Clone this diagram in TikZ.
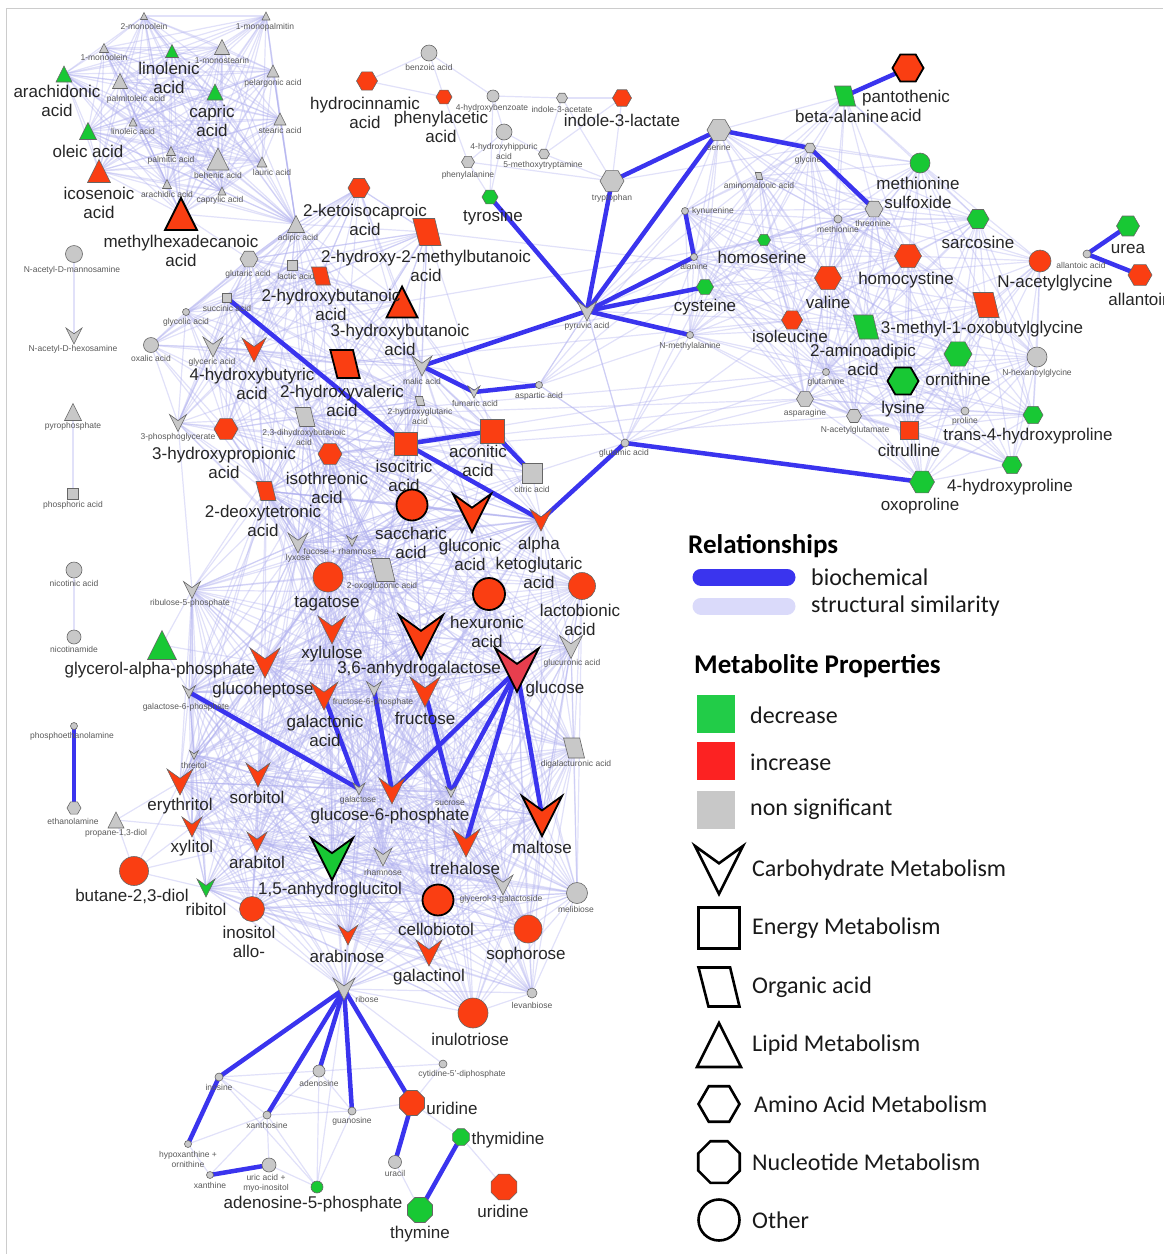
\documentclass[tikz,border=0pt]{standalone}
\usepackage{fontspec}
\setmainfont{Liberation Sans}
\newfontfamily\legfont{Carlito}
\usepackage{tikz}
\usetikzlibrary{shapes.geometric,backgrounds}

\definecolor{upred}{RGB}{250,62,18}
\definecolor{dngreen}{RGB}{24,200,52}
\definecolor{nsgray}{RGB}{200,200,200}
\definecolor{glcred}{RGB}{232,62,78}
\definecolor{simblue}{RGB}{175,175,238}
\definecolor{bioblue}{RGB}{58,52,238}
\definecolor{legred}{RGB}{252,34,34}
\definecolor{leggreen}{RGB}{34,204,72}
\definecolor{leglav}{RGB}{218,218,250}

% node shapes for the metabolite classes
\pgfdeclareshape{carbshape}{%
  \inheritsavedanchors[from=circle]%
  \inheritanchor[from=circle]{center}%
  \inheritanchorborder[from=circle]%
  \backgroundpath{%
    \pgfpathmoveto{\pgfpointadd{\centerpoint}{\pgfpoint{-\radius}{\radius}}}%
    \pgfpathlineto{\pgfpointadd{\centerpoint}{\pgfpoint{0pt}{0.28*\radius}}}%
    \pgfpathlineto{\pgfpointadd{\centerpoint}{\pgfpoint{\radius}{\radius}}}%
    \pgfpathlineto{\pgfpointadd{\centerpoint}{\pgfpoint{0pt}{-\radius}}}%
    \pgfpathclose}%
}
\pgfdeclareshape{lipidshape}{%
  \inheritsavedanchors[from=circle]%
  \inheritanchor[from=circle]{center}%
  \inheritanchorborder[from=circle]%
  \backgroundpath{%
    \pgfpathmoveto{\pgfpointadd{\centerpoint}{\pgfpoint{0pt}{\radius}}}%
    \pgfpathlineto{\pgfpointadd{\centerpoint}{\pgfpoint{\radius}{-\radius}}}%
    \pgfpathlineto{\pgfpointadd{\centerpoint}{\pgfpoint{-\radius}{-\radius}}}%
    \pgfpathclose}%
}
\pgfdeclareshape{acidshape}{%
  \inheritsavedanchors[from=circle]%
  \inheritanchor[from=circle]{center}%
  \inheritanchorborder[from=circle]%
  \backgroundpath{%
    \pgfpathmoveto{\pgfpointadd{\centerpoint}{\pgfpoint{-1.05*\radius}{\radius}}}%
    \pgfpathlineto{\pgfpointadd{\centerpoint}{\pgfpoint{0.57*\radius}{\radius}}}%
    \pgfpathlineto{\pgfpointadd{\centerpoint}{\pgfpoint{1.05*\radius}{-\radius}}}%
    \pgfpathlineto{\pgfpointadd{\centerpoint}{\pgfpoint{-0.54*\radius}{-\radius}}}%
    \pgfpathclose}%
}

\tikzstyle{met}    = [draw=black!60, line width=0.6pt, inner sep=0pt, outer sep=0pt]
\tikzstyle{up}     = [met, fill=upred]
\tikzstyle{dn}     = [met, fill=dngreen]
\tikzstyle{ns}     = [met, fill=nsgray]
\tikzstyle{hit}    = [draw=black, line width=1.8pt]
\tikzstyle{lab}    = [font=\fontsize{17}{19.5}\selectfont, text=black!85, align=center, inner sep=0pt]
\tikzstyle{sm}     = [font=\fontsize{8.5}{10}\selectfont, text=black!65, align=center, inner sep=0pt]
\tikzstyle{sim}    = [draw=simblue, line width=1.2pt, opacity=0.38]
\tikzstyle{bio}    = [draw=bioblue, line width=4.5pt]
\tikzstyle{leg}    = [font=\legfont\fontsize{24}{28}\selectfont, text=black!90, anchor=west, inner sep=0pt]
\tikzstyle{leghd}  = [font=\legfont\bfseries\fontsize{27}{30}\selectfont, anchor=west, inner sep=0pt]
\tikzstyle{legkey} = [draw=black, line width=2.6pt, fill=white, inner sep=0pt, outer sep=0pt]
\tikzset{
  carb/.style={shape=carbshape, minimum size=#1},
  lipid/.style={shape=lipidshape, minimum size=#1},
  oacid/.style={shape=acidshape, minimum size=#1},
  ener/.style={shape=rectangle, minimum size=#1},
  amino/.style={regular polygon, regular polygon sides=6, minimum size=#1},
  nucl/.style={regular polygon, regular polygon sides=8, minimum size=#1},
  oth/.style={shape=circle, minimum size=#1}
}

\newcommand\lipidgrp{mono2,mpalm,mono1,linoln,mstear,arachd,pltol,pelarg,capric,linol,stear,oleic,palm,behen,laur,icos,arach,capryl,mhd,adip}
\newcommand\acidgrp{lac,glut,succ,hbuta,hmb,kic,glyco,oxal,glyc,hbyr,hval,hbut3,mal,hglu,pga,hprop,dhb,dtet,ithr,icit,acon,cit,sacc,glcn,akg,lyx,fucrha,oxg,tag,adip}
\newcommand\sugargrp{sacc,glcn,akg,lyx,fucrha,oxg,tag,hexu,lacto,r5p,xylu,ahg,glcA,glc,ghep,gal6p,galn,f6p,fru,digal,throl,ery,sorb,gal,g6p,suc,malt,treh,xylt,arabt,ahgl,rha,ribt,g3g,arab,galol,melib,soph,rib,levan,inul,cello,inoal,dtet,ithr,dhb}
\newcommand\aminogrp{ser,gly,amal,msox,kyn,thr,met,sarc,hser,ala,cys,hcys,val,nacg,ile,nmala,mobg,aad,orn,lys,nhex,gln,asn,nacglu,citr,pro,thp,hyp4,oxop,bala,pyr,asp,glu}

% similarity links inside one group, up to a given length
\newcommand\simgroup[2]{%
  \foreach \a [count=\i] in #1 {
    \foreach \b [count=\j] in #1 {
      \ifnum\j>\i
        \pgfpointdiff{\pgfpointanchor{\a}{center}}{\pgfpointanchor{\b}{center}}
        \pgfgetlastxy\ddx\ddy
        \pgfmathtruncatemacro\near{veclen(\ddx,\ddy)<#2}
        \ifnum\near=1 \draw[sim] (\a.center) -- (\b.center); \fi
      \fi
    }
  }%
}

\begin{document}
\begin{tikzpicture}[x=1pt, y=-1pt]
    \useasboundingbox (0,0) rectangle (1163,1254);
    \draw[black!20, line width=1pt] (6,1254) -- (6,8) -- (1163,8);

    % lipids
    \node[ns, lipid=7] (mono2) at (144,16) {};       \node[sm] (mono2-t) at (144,26) {2-monoolein};
    \node[ns, lipid=8] (mpalm) at (266,16) {};       \node[sm] (mpalm-t) at (265,27) {1-monopalmitin};
    \node[ns, lipid=9] (mono1) at (104,48) {};       \node[sm] (mono1-t) at (104,57) {1-monoolein};
    \node[dn, lipid=13] (linoln) at (172,51) {};     \node[lab] (linoln-t) at (169,78) {linolenic\\acid};
    \node[ns, lipid=15] (mstear) at (222,47) {};     \node[sm] (mstear-t) at (222,60) {1-monostearin};
    \node[dn, lipid=16] (arachd) at (64,74) {};      \node[lab] (arachd-t) at (57,101) {arachidonic\\acid};
    \node[ns, lipid=15] (pltol) at (120,81) {};      \node[sm] (pltol-t) at (136,99) {palmitoleic acid};
    \node[ns, lipid=12] (pelarg) at (273,71) {};     \node[sm] (pelarg-t) at (273,83) {pelargonic acid};
    \node[dn, lipid=16] (capric) at (215,92) {};     \node[lab] (capric-t) at (212,121) {capric\\acid};
    \node[ns, lipid=8] (linol) at (133,122) {};      \node[sm] (linol-t) at (133,131) {linoleic acid};
    \node[ns, lipid=12] (stear) at (280,119) {};     \node[sm] (stear-t) at (280,130) {stearic acid};
    \node[dn, lipid=17] (oleic) at (88,131) {};      \node[lab] (oleic-t) at (88,151) {oleic acid};
    \node[ns, lipid=9] (palm) at (171,151) {};       \node[sm] (palm-t) at (171,160) {palmitic acid};
    \node[ns, lipid=22] (behen) at (218,159) {};     \node[sm] (behen-t) at (218,175) {behenic acid};
    \node[ns, lipid=10] (laur) at (262,162) {};      \node[sm] (laur-t) at (272,172) {lauric acid};
    \node[up, lipid=23] (icos) at (99,171) {};       \node[lab] (icos-t) at (99,203) {icosenoic\\acid};
    \node[ns, lipid=9] (arach) at (167,184) {};      \node[sm] (arach-t) at (167,194) {arachidic acid};
    \node[ns, lipid=8] (capryl) at (222,191) {};     \node[sm] (capryl-t) at (220,200) {caprylic acid};
    \node[up, hit, lipid=32] (mhd) at (181,214) {};  \node[lab] (mhd-t) at (181,251) {methylhexadecanoic\\acid};
    \node[ns, lipid=17] (adip) at (296,224) {};      \node[sm] (adip-t) at (298,238) {adipic acid};

    % aromatic compounds
    \node[ns, oth=16] (benz) at (429,53) {};         \node[sm] (benz-t) at (429,67) {benzoic acid};
    \node[up, amino=21] (hcin) at (367,81) {};       \node[lab] (hcin-t) at (365,113) {hydrocinnamic\\acid};
    \node[up, amino=16] (phac) at (444,97) {};       \node[lab] (phac-t) at (441,127) {phenylacetic\\acid};
    \node[ns, oth=12] (hbz) at (493,96) {};          \node[sm] (hbz-t) at (492,108) {4-hydroxybenzoate};
    \node[ns, amino=11] (iaa) at (562,98) {};        \node[sm] (iaa-t) at (562,109) {indole-3-acetate};
    \node[up, amino=19] (ilac) at (622,98) {};       \node[lab] (ilac-t) at (622,120) {indole-3-lactate};
    \node[ns, oth=16] (hhip) at (504,132) {};        \node[sm] (hhip-t) at (504,151) {4-hydroxyhippuric\\acid};
    \node[ns, amino=11] (mtry) at (544,154) {};      \node[sm] (mtry-t) at (543,165) {5-methoxytryptamine};
    \node[ns, amino=13] (phe) at (468,162) {};       \node[sm] (phe-t) at (468,175) {phenylalanine};
    \node[ns, amino=24] (trp) at (612,181) {};       \node[sm] (trp-t) at (612,198) {tryptophan};
    \node[up, amino=22] (kic) at (359,188) {};       \node[lab] (kic-t) at (365,220) {2-ketoisocaproic\\acid};
    \node[dn, amino=16] (tyr) at (490,197) {};       \node[lab] (tyr-t) at (493,217) {tyrosine};
    \node[up, oacid=27] (hmb) at (427,232) {};       \node[lab] (hmb-t) at (426,266) {2-hydroxy-2-methylbutanoic\\acid};

    % amino acids
    \node[up, hit, amino=31] (pan) at (908,68) {};   \node[lab] (pan-t) at (906,106) {pantothenic\\acid};
    \node[dn, oacid=20] (bala) at (845,96) {};       \node[lab] (bala-t) at (842,116) {beta-alanine};
    \node[ns, amino=24] (ser) at (719,130) {};       \node[sm] (ser-t) at (719,147) {serine};
    \node[ns, amino=11] (gly) at (810,148) {};       \node[sm] (gly-t) at (808,160) {glycine};
    \node[ns, oacid=7] (amal) at (759,176) {};       \node[sm] (amal-t) at (759,185) {aminomalonic acid};
    \node[dn, oth=20] (msox) at (920,163) {};        \node[lab] (msox-t) at (918,193) {methionine\\sulfoxide};
    \node[ns, oth=7] (kyn) at (685,211) {};          \node[sm, anchor=west] (kyn-t) at (692,211) {kynurenine};
    \node[ns, amino=18] (thr) at (874,209) {};       \node[sm] (thr-t) at (873,223) {threonine};
    \node[ns, oth=8] (met) at (838,219) {};          \node[sm] (met-t) at (838,229) {methionine};
    \node[dn, amino=22] (sarc) at (978,219) {};      \node[lab] (sarc-t) at (978,242) {sarcosine};
    \node[dn, amino=23] (urea) at (1128,226) {};     \node[lab] (urea-t) at (1128,249) {urea};
    \node[dn, amino=13] (hser) at (764,240) {};      \node[lab] (hser-t) at (762,257) {homoserine};
    \node[ns, oth=7] (ala) at (694,257) {};          \node[sm] (ala-t) at (694,266) {alanine};
    \node[dn, amino=17] (cys) at (705,287) {};       \node[lab] (cys-t) at (705,307) {cysteine};
    \node[up, amino=27] (hcys) at (908,256) {};      \node[lab] (hcys-t) at (906,280) {homocystine};
    \node[up, amino=27] (val) at (828,278) {};       \node[lab] (val-t) at (828,302) {valine};
    \node[up, oth=22] (nacg) at (1040,261) {};       \node[lab] (nacg-t) at (1055,283) {N-acetylglycine};
    \node[ns, oth=8] (allac) at (1087,254) {};       \node[sm] (allac-t) at (1081,265) {allantoic acid};
    \node[up, amino=24] (allan) at (1140,275) {};    \node[lab] (allan-t) at (1140,299) {allantoin};
    \node[up, amino=21] (ile) at (792,320) {};       \node[lab] (ile-t) at (790,336) {isoleucine};
    \node[ns, oth=7] (nmala) at (690,335) {};        \node[sm] (nmala-t) at (690,346) {N-methylalanine};
    \node[up, oacid=25] (mobg) at (986,305) {};      \node[lab] (mobg-t) at (982,329) {3-methyl-1-oxobutylglycine};
    \node[dn, oacid=24] (aad) at (866,327) {};       \node[lab] (aad-t) at (863,360) {2-aminoadipic\\acid};
    \node[dn, amino=28] (orn) at (958,354) {};       \node[lab] (orn-t) at (958,379) {ornithine};
    \node[dn, hit, amino=31] (lys) at (903,381) {};  \node[lab] (lys-t) at (903,409) {lysine};
    \node[ns, oth=20] (nhex) at (1037,357) {};       \node[sm] (nhex-t) at (1037,373) {N-hexanoylglycine};
    \node[ns, oth=7] (gln) at (826,372) {};          \node[sm] (gln-t) at (826,382) {glutamine};
    \node[ns, amino=17] (asn) at (805,399) {};       \node[sm] (asn-t) at (805,413) {asparagine};
    \node[ns, amino=15] (nacglu) at (854,416) {};    \node[sm] (nacglu-t) at (855,430) {N-acetylglutamate};
    \node[up, ener=18] (citr) at (909,430) {};       \node[lab] (citr-t) at (909,450) {citrulline};
    \node[ns, oth=8] (pro) at (965,411) {};          \node[sm] (pro-t) at (965,421) {proline};
    \node[dn, amino=20] (thp) at (1033,415) {};      \node[lab] (thp-t) at (1028,436) {trans-4-hydroxyproline};
    \node[dn, amino=20] (hyp4) at (1012,465) {};     \node[lab] (hyp4-t) at (1010,487) {4-hydroxyproline};
    \node[dn, amino=25] (oxop) at (922,482) {};      \node[lab] (oxop-t) at (920,506) {oxoproline};

    % organic acids and energy metabolism
    \node[ns, oth=8] (glu) at (625,443) {};          \node[sm] (glu-t) at (624,453) {glutamic acid};
    \node[ns, oth=7] (asp) at (539,385) {};          \node[sm] (asp-t) at (539,396) {aspartic acid};
    \node[ns, carb=20] (pyr) at (587,311) {};        \node[sm] (pyr-t) at (587,326) {pyruvic acid};
    \node[ns, carb=20] (mal) at (422,366) {};        \node[sm] (mal-t) at (422,381) {malic acid};
    \node[ns, carb=12] (fum) at (474,392) {};        \node[sm] (fum-t) at (475,403) {fumaric acid};
    \node[ns, oacid=9] (hglu) at (420,401) {};       \node[sm] (hglu-t) at (420,416) {2-hydroxyglutaric\\acid};
    \node[up, hit, lipid=31] (hbut3) at (402,302) {};\node[lab] (hbut3-t) at (400,340) {3-hydroxybutanoic\\acid};
    \node[up, hit, oacid=28] (hval) at (345,364) {}; \node[lab] (hval-t) at (342,401) {2-hydroxyvaleric\\acid};
    \node[up, ener=23] (icit) at (406,444) {};       \node[lab] (icit-t) at (404,476) {isocitric\\acid};
    \node[up, ener=24] (acon) at (492,431) {};       \node[lab] (acon-t) at (478,461) {aconitic\\acid};
    \node[ns, ener=20] (cit) at (532,473) {};        \node[sm] (cit-t) at (532,489) {citric acid};
    \node[up, hit, oth=31] (sacc) at (412,505) {};   \node[lab] (sacc-t) at (411,543) {saccharic\\acid};
    \node[up, hit, carb=38] (glcn) at (472,513) {};  \node[lab] (glcn-t) at (470,555) {gluconic\\acid};
    \node[up, carb=22] (akg) at (541,520) {};        \node[lab] (akg-t) at (539,563) {alpha\\ketoglutaric\\acid};
    \node[ns, oth=17] (nacman) at (74,254) {};       \node[sm] (nacman-t) at (72,270) {N-acetyl-D-mannosamine};
    \node[ns, carb=16] (nachex) at (74,336) {};      \node[sm] (nachex-t) at (73,349) {N-acetyl-D-hexosamine};
    \node[ns, amino=18] (glut) at (249,259) {};      \node[sm] (glut-t) at (248,274) {glutaric acid};
    \node[ns, ener=10] (lac) at (292,265) {};        \node[sm] (lac-t) at (296,276) {lactic acid};
    \node[up, oacid=18] (hbuta) at (321,276) {};     \node[lab] (hbuta-t) at (331,305) {2-hydroxybutanoic\\acid};
    \node[ns, ener=9] (succ) at (227,298) {};        \node[sm] (succ-t) at (227,308) {succinic acid};
    \node[ns, oth=7] (glyco) at (186,312) {};        \node[sm] (glyco-t) at (186,322) {glycolic acid};
    \node[ns, oth=15] (oxal) at (151,345) {};        \node[sm] (oxal-t) at (151,358) {oxalic acid};
    \node[ns, carb=20] (glyc) at (213,347) {};       \node[sm] (glyc-t) at (212,362) {glyceric acid};
    \node[up, carb=24] (hbyr) at (254,350) {};       \node[lab] (hbyr-t) at (252,384) {4-hydroxybutyric\\acid};
    \node[ns, lipid=17] (ppi) at (73,412) {};        \node[sm] (ppi-t) at (73,426) {pyrophosphate};
    \node[ns, ener=11] (pi) at (73,494) {};          \node[sm] (pi-t) at (73,505) {phosphoric acid};
    \node[ns, carb=17] (pga) at (178,423) {};        \node[sm] (pga-t) at (178,437) {3-phosphoglycerate};
    \node[up, amino=24] (hprop) at (226,429) {};     \node[lab] (hprop-t) at (224,463) {3-hydroxypropionic\\acid};
    \node[ns, oacid=19] (dhb) at (305,417) {};       \node[sm] (dhb-t) at (304,437) {2,3-dihydroxybutanoic\\acid};
    \node[up, oacid=19] (dtet) at (266,491) {};      \node[lab] (dtet-t) at (263,521) {2-deoxytetronic\\acid};
    \node[up, amino=24] (ithr) at (330,454) {};      \node[lab] (ithr-t) at (327,488) {isothreonic\\acid};

    % carbohydrates
    \node[ns, carb=11] (fucrha) at (352,541) {};     \node[sm] (fucrha-t) at (340,551) {fucose + rhamnose};
    \node[ns, oacid=23] (oxg) at (383,570) {};       \node[sm] (oxg-t) at (382,586) {2-oxogluconic acid};
    \node[ns, carb=20] (lyx) at (298,543) {};        \node[sm] (lyx-t) at (298,558) {lyxose};
    \node[up, oth=30] (tag) at (328,577) {};         \node[lab] (tag-t) at (327,604) {tagatose};
    \node[up, hit, oth=32] (hexu) at (489,594) {};   \node[lab] (hexu-t) at (487,632) {hexuronic\\acid};
    \node[up, oth=27] (lacto) at (582,586) {};       \node[lab] (lacto-t) at (580,620) {lactobionic\\acid};
    \node[ns, carb=17] (r5p) at (192,590) {};        \node[sm] (r5p-t) at (190,603) {ribulose-5-phosphate};
    \node[up, carb=28] (xylu) at (332,630) {};       \node[lab] (xylu-t) at (332,654) {xylulose};
    \node[up, hit, carb=44] (ahg) at (421,637) {};   \node[lab] (ahg-t) at (419,669) {3,6-anhydrogalactose};
    \node[ns, carb=23] (glcA) at (571,647) {};       \node[sm] (glcA-t) at (572,663) {glucuronic acid};
    \node[hit, fill=glcred, carb=42, inner sep=0pt] (glc) at (517,670) {};
                                                     \node[lab] (glc-t) at (555,689) {glucose};
    \node[up, carb=30] (ghep) at (265,663) {};       \node[lab] (ghep-t) at (263,690) {glucoheptose};
    \node[dn, lipid=29] (gap) at (162,645) {};       \node[lab] (gap-t) at (160,670) {glycerol-alpha-phosphate};
    \node[ns, carb=13] (gal6p) at (189,692) {};      \node[sm] (gal6p-t) at (186,707) {galactose-6-phosphate};
    \node[up, carb=28] (galn) at (324,696) {};       \node[lab] (galn-t) at (325,731) {galactonic\\acid};
    \node[ns, carb=15] (f6p) at (374,689) {};        \node[sm] (f6p-t) at (373,702) {fructose-6-phosphate};
    \node[up, carb=30] (fru) at (425,692) {};        \node[lab] (fru-t) at (425,718) {fructose};
    \node[ns, oacid=20] (digal) at (574,748) {};     \node[sm] (digal-t) at (576,764) {digalacturonic acid};
    \node[ns, carb=9] (throl) at (194,755) {};       \node[sm] (throl-t) at (194,765) {threitol};
    \node[up, carb=26] (ery) at (180,782) {};        \node[lab] (ery-t) at (180,806) {erythritol};
    \node[up, carb=24] (sorb) at (258,775) {};       \node[lab] (sorb-t) at (257,797) {sorbitol};
    \node[ns, carb=12] (gal) at (359,789) {};        \node[sm] (gal-t) at (358,800) {galactose};
    \node[up, carb=26] (g6p) at (392,791) {};        \node[lab] (g6p-t) at (390,816) {glucose-6-phosphate};
    \node[ns, carb=11] (suc) at (451,792) {};        \node[sm] (suc-t) at (450,803) {sucrose};
    \node[up, hit, carb=40] (malt) at (542,816) {};  \node[lab] (malt-t) at (542,847) {maltose};
    \node[up, carb=28] (treh) at (466,843) {};       \node[lab] (treh-t) at (465,868) {trehalose};
    \node[ns, oth=7] (pea) at (74,726) {};           \node[sm] (pea-t) at (72,736) {phosphoethanolamine};
    \node[ns, amino=14] (etn) at (74,808) {};        \node[sm] (etn-t) at (73,821) {ethanolamine};
    \node[ns, lipid=16] (prop) at (116,820) {};      \node[sm] (prop-t) at (116,833) {propane-1,3-diol};
    \node[up, carb=20] (xylt) at (192,827) {};       \node[lab] (xylt-t) at (192,848) {xylitol};
    \node[up, carb=20] (arabt) at (257,842) {};      \node[lab] (arabt-t) at (257,862) {arabitol};
    \node[up, oth=29] (but) at (134,871) {};         \node[lab] (but-t) at (132,896) {butane-2,3-diol};
    \node[dn, carb=18] (ribt) at (206,888) {};       \node[lab] (ribt-t) at (206,909) {ribitol};
    \node[dn, hit, carb=42] (ahgl) at (332,859) {};  \node[lab] (ahgl-t) at (330,890) {1,5-anhydroglucitol};
    \node[up, oth=25] (inoal) at (252,909) {};       \node[lab] (inoal-t) at (249,942) {inositol\\allo-};
    \node[ns, carb=18] (rha) at (383,857) {};        \node[sm] (rha-t) at (383,872) {rhamnose};
    \node[up, hit, oth=31] (cello) at (438,900) {};  \node[lab] (cello-t) at (436,929) {cellobiotol};
    \node[ns, carb=20] (g3g) at (503,885) {};        \node[sm] (g3g-t) at (501,899) {glycerol-3-galactoside};
    \node[ns, oth=21] (melib) at (577,893) {};       \node[sm] (melib-t) at (576,909) {melibiose};
    \node[up, oth=28] (soph) at (528,929) {};        \node[lab] (soph-t) at (526,955) {sophorose};
    \node[up, carb=20] (arab) at (348,935) {};       \node[lab] (arab-t) at (347,956) {arabinose};
    \node[up, carb=26] (galol) at (429,953) {};      \node[lab] (galol-t) at (429,977) {galactinol};
    \node[ns, carb=22] (rib) at (344,989) {};        \node[sm] (rib-t) at (367,999) {ribose};
    \node[ns, oth=10] (levan) at (532,993) {};       \node[sm] (levan-t) at (532,1005) {levanbiose};
    \node[up, oth=30] (inul) at (473,1013) {};       \node[lab] (inul-t) at (470,1039) {inulotriose};
    \node[ns, oth=16] (nicac) at (74,570) {};        \node[sm] (nicac-t) at (74,583) {nicotinic acid};
    \node[ns, oth=14] (nicam) at (74,637) {};        \node[sm] (nicam-t) at (74,649) {nicotinamide};

    % nucleotides
    \node[ns, oth=8] (cdp) at (443,1064) {};         \node[sm] (cdp-t) at (462,1074) {cytidine-5'-diphosphate};
    \node[up, nucl=27] (uri) at (412,1103) {};       \node[lab] (uri-t) at (452,1108) {uridine};
    \node[ns, oth=8] (guo) at (352,1111) {};         \node[sm] (guo-t) at (352,1121) {guanosine};
    \node[dn, nucl=18] (thd) at (461,1137) {};       \node[lab] (thd-t) at (508,1140) {thymidine};
    \node[ns, oth=13] (ura) at (395,1162) {};        \node[sm] (ura-t) at (395,1173) {uracil};
    \node[up, nucl=28] (uri2) at (504,1187) {};      \node[lab] (uri2-t) at (503,1211) {uridine};
    \node[dn, nucl=27] (thy) at (420,1210) {};       \node[lab] (thy-t) at (420,1234) {thymine};
    \node[dn, oth=12] (amp) at (317,1187) {};        \node[lab] (amp-t) at (313,1204) {adenosine-5-phosphate};
    \node[ns, oth=8] (ino) at (219,1077) {};         \node[sm] (ino-t) at (219,1087) {inosine};
    \node[ns, oth=12] (ado) at (319,1071) {};        \node[sm] (ado-t) at (319,1083) {adenosine};
    \node[ns, oth=8] (xao) at (267,1115) {};         \node[sm] (xao-t) at (267,1125) {xanthosine};
    \node[ns, oth=7] (hyp) at (188,1144) {};         \node[sm] (hyp-t) at (188,1159) {hypoxanthine +\\ornithine};
    \node[ns, oth=7] (xan) at (210,1175) {};         \node[sm] (xan-t) at (210,1185) {xanthine};
    \node[ns, oth=14] (uric) at (269,1165) {};       \node[sm] (uric-t) at (266,1183) {uric acid +\\myo-inositol};

    % relationships
    \begin{scope}[on background layer]
        \simgroup{\lipidgrp}{400}
        \simgroup{\acidgrp}{240}
        \simgroup{\sugargrp}{330}
        \simgroup{\aminogrp}{230}
        \foreach \a/\b in {nacman/nachex, nicac/nicam, ppi/pi, benz/hcin, benz/phac, benz/hbz, hcin/phac,
            phac/phe, hbz/tyr, hbz/hhip, hbz/iaa, phe/trp, phe/tyr, phe/hhip, iaa/ilac, iaa/mtry, iaa/trp,
            ilac/trp, ilac/mtry, mtry/trp, mtry/hhip, trp/ser, trp/gly, tyr/hhip, kic/hmb, kic/lac,
            kic/hbuta, kic/adip, hmb/hbut3, hmb/hbuta, hmb/glut, hmb/hval, pga/r5p, pga/glyc, r5p/gal6p,
            r5p/lyx, r5p/gap, gap/gal6p, gap/ghep, gal6p/throl, gal6p/ghep, throl/ery, throl/sorb,
            prop/ery, prop/xylt, prop/but, but/xylt, but/ribt, but/arabt, but/ery, inoal/ribt, inoal/arabt,
            asp/mal, asp/fum, glu/akg, glu/cit, ithr/asn, ithr/nacglu, ithr/gln, dhb/gln, dhb/asn,
            hval/val, hval/ile, hbut3/hser, hmb/val, ino/ado, ino/guo, ino/xao, ado/xao, ado/guo, xao/guo,
            ado/amp, xao/amp, guo/amp, hyp/xao, hyp/xan, xan/xao, uric/amp, cdp/uri, cdp/ado, uri/thd,
            thd/uri2, ura/thy, guo/uri, rib/amp, rib/cdp, ino/amp, xao/uric, pyr/asp, pyr/glu, asp/glu,
            mhd/glut, adip/glut, adip/lac, pelarg/adip, stear/adip}
            \draw[sim] (\a.center) -- (\b.center);
        \foreach \a/\b in {pan/bala, ser/trp, ser/pyr, ser/gly, gly/thr, trp/pyr, tyr/pyr, kyn/ala,
            ala/pyr, cys/pyr, nmala/pyr, pyr/mal, mal/fum, fum/asp, urea/allac, allac/allan, succ/icit,
            icit/acon, acon/cit, icit/akg, akg/glu, glu/oxop, gal6p/gal, galn/gal, f6p/g6p, glc/g6p,
            glc/suc, glc/treh, glc/malt, fru/suc, pea/etn, rib/ino, rib/xao, rib/ado, rib/guo, rib/uri,
            ino/hyp, xan/uric, uri/ura, thd/thy}
            \draw[bio] (\a.center) -- (\b.center);
    \end{scope}

    % legend
    \node[leghd] (relhd) at (688,546) {Relationships};
    \coordinate (bioa) at (701,577);
    \coordinate (biob) at (787,577);
    \coordinate (sima) at (701,606);
    \coordinate (simb) at (787,606);
    \draw[line width=17pt, line cap=round, bioblue] (bioa) -- (biob);
    \draw[line width=17pt, line cap=round, leglav] (sima) -- (simb);
    \node[leg] (bio-t) at (811,577) {biochemical};
    \node[leg] (sim-t) at (811,606) {structural similarity};
    \node[leghd] (prophd) at (694,666) {Metabolite Properties};
    \node[fill=leggreen, minimum size=38pt, inner sep=0pt] (kdn) at (716,714) {};
    \node[fill=legred, minimum size=38pt, inner sep=0pt] (kup) at (716,761) {};
    \node[fill=nsgray, minimum size=38pt, inner sep=0pt] (kns) at (716,810) {};
    \node[leg] (kdn-t) at (750,715) {decrease};
    \node[leg] (kup-t) at (750,762) {increase};
    \node[leg] (kns-t) at (750,809) {non significant};
    \node[legkey, carb=48] (kcarb) at (719,870) {};
    \node[legkey, ener=41] (kener) at (719,928) {};
    \node[legkey, oacid=39] (kacid) at (719,987) {};
    \node[legkey, lipid=44] (klip) at (719,1045) {};
    \node[legkey, amino=41] (kamino) at (719,1104) {};
    \node[legkey, nucl=45] (knucl) at (719,1162) {};
    \node[legkey, oth=41] (koth) at (719,1220) {};
    \node[leg] (kcarb-t) at (752,870) {Carbohydrate Metabolism};
    \node[leg] (kener-t) at (752,928) {Energy Metabolism};
    \node[leg] (kacid-t) at (752,987) {Organic acid};
    \node[leg] (klip-t) at (752,1045) {Lipid Metabolism};
    \node[leg] (kamino-t) at (754,1104) {Amino Acid Metabolism};
    \node[leg] (knucl-t) at (752,1162) {Nucleotide Metabolism};
    \node[leg] (koth-t) at (752,1220) {Other};
\end{tikzpicture}
\end{document}
